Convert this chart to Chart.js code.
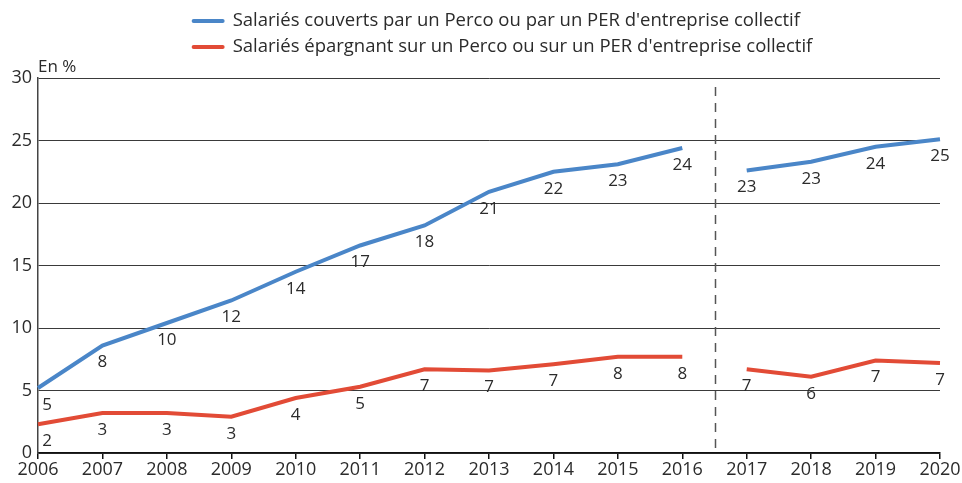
<!DOCTYPE html>
<html>
<head>
<meta charset="utf-8">
<script src="https://cdn.jsdelivr.net/npm/chart.js@4/dist/chart.umd.min.js"></script>
<style>
  body { margin: 0; background: #fff; }
  canvas { display: block; }
</style>
</head>
<body>
<canvas id="percoChart" width="962" height="483"></canvas>
<script>
const years = ['2006', '2007', '2008', '2009', '2010', '2011', '2012', '2013', '2014', '2015', '2016', '2017', '2018', '2019', '2020'];
const couverts = [5.2, 8.6, 10.4, 12.2, 14.5, 16.6, 18.2, 20.9, 22.5, 23.1, 24.4, 22.6, 23.3, 24.5, 25.1];
const epargnant = [2.3, 3.2, 3.2, 2.9, 4.4, 5.3, 6.7, 6.6, 7.1, 7.7, 7.7, 6.7, 6.1, 7.4, 7.2];
const couvertsLabels = ['5', '8', '10', '12', '14', '17', '18', '21', '22', '23', '24', '23', '23', '24', '25'];
const epargnantLabels = ['2', '3', '3', '3', '4', '5', '7', '7', '7', '8', '8', '7', '6', '7', '7'];
const yTicks = [0, 5, 10, 15, 20, 25, 30];
const breakAfter = '2016';

const FONT = '"Open Sans", "Noto Sans", sans-serif';
const TEXT = '#2b2b2b';
const BLUE = '#4a86c8';
const RED = '#e24b36';

const breakIndex = years.indexOf(breakAfter);

// draws the value under each point
const valueLabels = {
  id: 'valueLabels',
  afterDatasetsDraw(chart) {
    const ctx = chart.ctx;
    ctx.save();
    ctx.font = '17px ' + FONT;
    ctx.fillStyle = TEXT;
    ctx.textAlign = 'center';
    ctx.textBaseline = 'middle';
    chart.data.datasets.forEach((ds, i) => {
      const meta = chart.getDatasetMeta(i);
      meta.data.forEach((pt, j) => {
        const dx = j === 0 ? 9 : 0;
        ctx.fillText(ds.valueLabels[j], pt.x + dx, pt.y + 17);
      });
    });
    ctx.restore();
  }
};

// dashed separator between 2016 and 2017, plus "En %" and the legend
const decorations = {
  id: 'decorations',
  afterDraw(chart) {
    const ctx = chart.ctx;
    const area = chart.chartArea;
    const x = chart.scales.x;
    const sepX = (x.getPixelForValue(breakIndex) + x.getPixelForValue(breakIndex + 1)) / 2;
    ctx.save();
    ctx.strokeStyle = '#555';
    ctx.lineWidth = 1.5;
    ctx.setLineDash([9, 7]);
    ctx.beginPath();
    ctx.moveTo(Math.round(sepX) + 0.5, area.top + 9);
    ctx.lineTo(Math.round(sepX) + 0.5, area.bottom);
    ctx.stroke();
    ctx.setLineDash([]);

    ctx.font = '17px ' + FONT;
    ctx.fillStyle = TEXT;
    ctx.textAlign = 'left';
    ctx.textBaseline = 'alphabetic';
    ctx.fillText('En %', area.left, area.top - 6);

    // legend
    ctx.font = '18.5px ' + FONT;
    const widths = chart.data.datasets.map(ds => ctx.measureText(ds.label).width);
    const blockW = 32 + 9 + Math.max(...widths);
    const startX = (area.left + area.right) / 2 - blockW / 2 + 13;
    chart.data.datasets.forEach((ds, i) => {
      const cy = 21 + i * 26;
      ctx.strokeStyle = ds.borderColor;
      ctx.lineWidth = 4;
      ctx.lineCap = 'round';
      ctx.beginPath();
      ctx.moveTo(startX + 2, cy);
      ctx.lineTo(startX + 31, cy);
      ctx.stroke();
      ctx.fillStyle = TEXT;
      ctx.textBaseline = 'middle';
      ctx.fillText(ds.label, startX + 41, cy);
    });
    ctx.restore();
  }
};

function lineSet(label, values, labels, color) {
  return {
    label: label,
    data: values,
    valueLabels: labels,
    borderColor: color,
    backgroundColor: color,
    borderWidth: 4,
    pointRadius: 0,
    tension: 0,
    segment: {
      borderColor: c => c.p0DataIndex === breakIndex ? 'transparent' : undefined
    }
  };
}

new Chart(document.getElementById('percoChart'), {
  type: 'line',
  data: {
    labels: years,
    datasets: [
      lineSet("Salariés couverts par un Perco ou par un PER d'entreprise collectif", couverts, couvertsLabels, BLUE),
      lineSet("Salariés épargnant sur un Perco ou sur un PER d'entreprise collectif", epargnant, epargnantLabels, RED)
    ]
  },
  options: {
    responsive: false,
    animation: false,
    layout: { padding: { top: 78, right: 22, left: 0, bottom: 0 } },
    plugins: {
      legend: { display: false },
      tooltip: { enabled: false }
    },
    scales: {
      x: {
        offset: false,
        afterFit: s => { s.height = 30; },
        border: { color: '#111', width: 1.5 },
        grid: { drawOnChartArea: false, drawTicks: true, tickLength: 6, color: '#111', lineWidth: 1.5 },
        ticks: { font: { family: FONT, size: 18 }, color: TEXT, padding: 0, maxRotation: 0, autoSkip: false }
      },
      y: {
        min: 0,
        max: 30,
        afterBuildTicks: s => { s.ticks = yTicks.map(v => ({ value: v })); },
        afterFit: s => { s.width = 38; },
        border: { color: '#444', width: 1.5 },
        grid: { drawTicks: false, color: '#3a3a3a', lineWidth: 1 },
        ticks: { font: { family: FONT, size: 18 }, color: TEXT, padding: 6 }
      }
    }
  },
  plugins: [valueLabels, decorations]
});
</script>
</body>
</html>
